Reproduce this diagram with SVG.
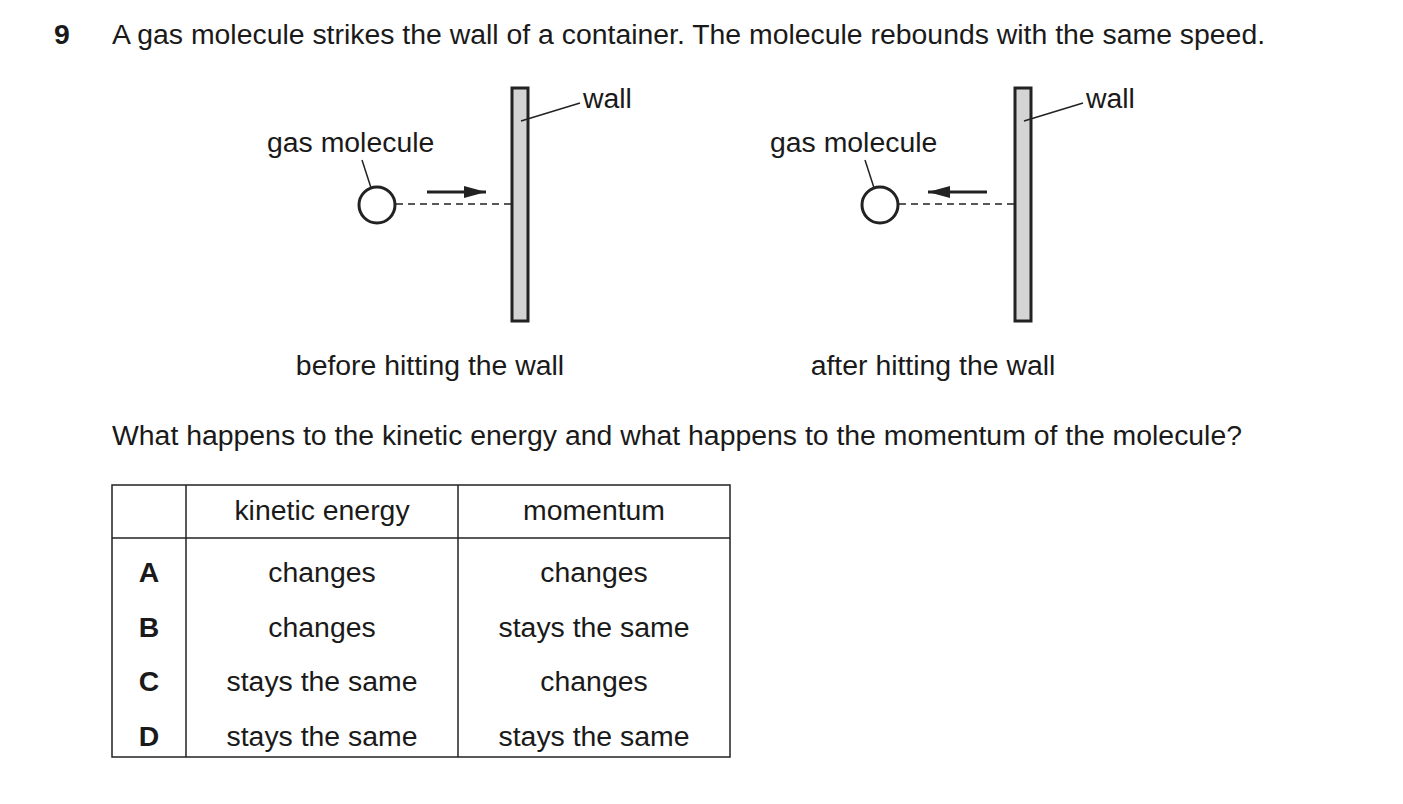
<svg xmlns="http://www.w3.org/2000/svg" width="1403" height="804" viewBox="0 0 1403 804">
<style>
text{font-family:"Liberation Sans",Arial,sans-serif;font-size:28.4px;fill:#1a1a1a}
.c{text-anchor:middle}
.b{font-weight:bold}
.wall{fill:#d4d4d4;stroke:#222;stroke-width:3}
.ln{stroke:#222;stroke-width:1.5;fill:none}
.mol{fill:#fff;stroke:#222;stroke-width:3}
.dash{stroke:#222;stroke-width:1.5;stroke-dasharray:7,5}
.arr{stroke:#222;stroke-width:3}
.tb{stroke:#222;stroke-width:1.5;fill:none}
</style>
<defs><marker id="ah2" markerWidth="22" markerHeight="12" refX="22" refY="6" orient="auto" markerUnits="userSpaceOnUse"><path d="M0,0L22,6L0,12z" fill="#222"/></marker></defs>
<text x="54" y="44" class="b">9</text>
<text x="112" y="44">A gas molecule strikes the wall of a container. The molecule rebounds with the same speed.</text>
<g id="before">
<rect class="wall" x="512" y="88" width="16" height="233"/>
<line class="ln" x1="521" y1="121" x2="580" y2="103"/>
<text x="583" y="108">wall</text>
<text x="267" y="152">gas molecule</text>
<line class="ln" x1="362" y1="160" x2="374" y2="197"/>
<line class="dash" x1="396" y1="204" x2="512" y2="204"/>
<circle class="mol" cx="377" cy="205" r="18"/>
<line class="arr" x1="427" y1="192" x2="486" y2="192" marker-end="url(#ah2)"/>
<text x="430" y="375" class="c">before hitting the wall</text>
</g>
<g id="after">
<rect class="wall" x="1015" y="88" width="16" height="233"/>
<line class="ln" x1="1024" y1="121" x2="1083" y2="103"/>
<text x="1086" y="108">wall</text>
<text x="770" y="152">gas molecule</text>
<line class="ln" x1="865" y1="160" x2="877" y2="197"/>
<line class="dash" x1="899" y1="204" x2="1015" y2="204"/>
<circle class="mol" cx="880" cy="205" r="18"/>
<line class="arr" x1="987" y1="192" x2="928" y2="192" marker-end="url(#ah2)"/>
<text x="933" y="375" class="c">after hitting the wall</text>
</g>
<text x="112" y="445">What happens to the kinetic energy and what happens to the momentum of the molecule?</text>
<g id="table">
<rect class="tb" x="112" y="485" width="618" height="272"/>
<line class="tb" x1="112" y1="538" x2="730" y2="538"/>
<line class="tb" x1="186" y1="485" x2="186" y2="757"/>
<line class="tb" x1="458" y1="485" x2="458" y2="757"/>
<text x="322" y="520" class="c">kinetic energy</text>
<text x="594" y="520" class="c">momentum</text>
<text x="149" y="582" class="c b">A</text><text x="322" y="582" class="c">changes</text><text x="594" y="582" class="c">changes</text>
<text x="149" y="637" class="c b">B</text><text x="322" y="637" class="c">changes</text><text x="594" y="637" class="c">stays the same</text>
<text x="149" y="691" class="c b">C</text><text x="322" y="691" class="c">stays the same</text><text x="594" y="691" class="c">changes</text>
<text x="149" y="746" class="c b">D</text><text x="322" y="746" class="c">stays the same</text><text x="594" y="746" class="c">stays the same</text>
</g>
</svg>
